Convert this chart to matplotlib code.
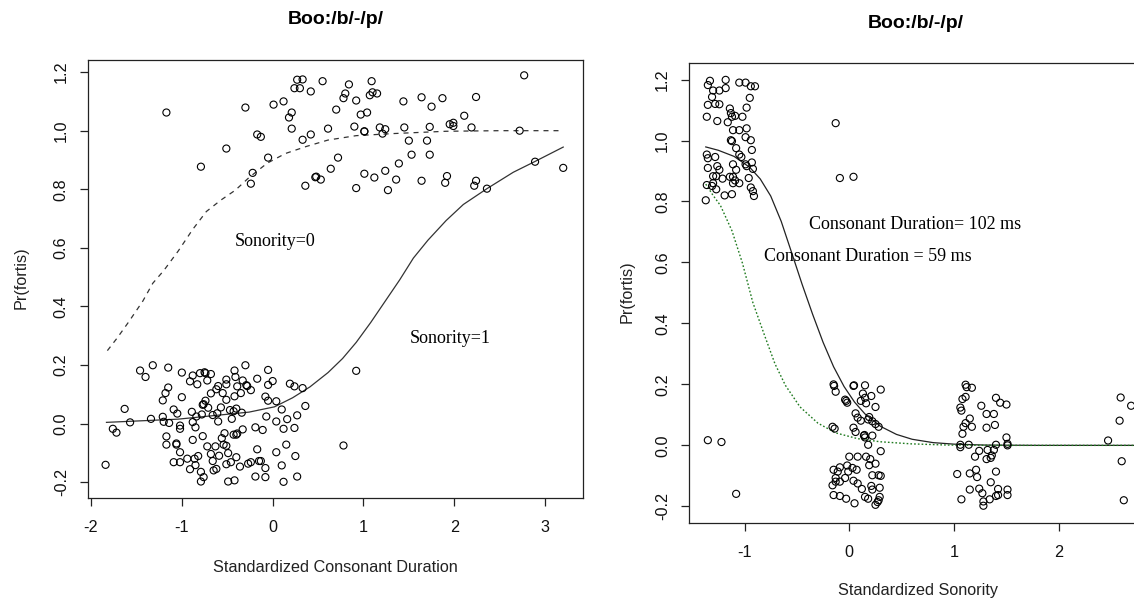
import numpy as np
import matplotlib
matplotlib.use("Agg")
import matplotlib.pyplot as plt

plt.rcParams['font.family'] = ['Liberation Sans', 'DejaVu Sans']

# --- left panel: fortis responses vs standardized consonant duration ---
dur_hi_x = [-1.17, -0.79, -0.51, -0.30, -0.22, -0.24, -0.17, -0.13, -0.05, 0.01,
            0.12, 0.18, 0.21, 0.21, 0.24, 0.27, 0.30, 0.33, 0.33, 0.42,
            0.42, 0.36, 0.47, 0.48, 0.53, 0.55, 0.61, 0.64, 0.70, 0.72,
            0.78, 0.80, 0.84, 0.90, 0.92, 0.92, 0.97, 1.01, 1.01, 1.01,
            1.04, 1.07, 1.09, 1.10, 1.12, 1.15, 1.18, 1.21, 1.24, 1.24,
            1.27, 1.36, 1.39, 1.44, 1.45, 1.50, 1.53, 1.64, 1.64, 1.70,
            1.73, 1.73, 1.75, 1.87, 1.90, 1.92, 1.95, 1.99, 1.99, 2.11,
            2.19, 2.22, 2.24, 2.24, 2.36, 2.72, 2.77, 2.89, 3.20]
dur_hi_y = [1.062, 0.877, 0.939, 1.079, 0.856, 0.819, 0.987, 0.979, 0.908, 1.089,
            1.100, 1.045, 1.062, 1.007, 1.145, 1.174, 1.145, 1.175, 0.969, 1.134,
            0.987, 0.812, 0.841, 0.843, 0.833, 1.169, 1.007, 0.870, 1.072, 0.908,
            1.111, 1.127, 1.158, 1.014, 1.103, 0.804, 1.055, 0.998, 0.997, 0.853,
            1.062, 1.121, 1.169, 1.131, 0.840, 1.127, 1.011, 0.990, 1.005, 0.863,
            0.797, 0.833, 0.888, 1.100, 1.011, 0.966, 0.918, 1.114, 0.829, 0.966,
            1.013, 0.918, 1.082, 1.111, 0.822, 0.845, 1.022, 1.027, 1.016, 1.051,
            1.011, 0.812, 0.829, 1.115, 0.802, 1.000, 1.189, 0.894, 0.873]

dur_lo_x = [-1.84, -1.76, -1.72, -1.63, -1.57, -1.46, -1.40, -1.34, -1.32, -1.21,
            -1.21, -1.20, -1.17, -1.17, -1.15, -1.15, -1.18, -1.14, -1.09, -1.09,
            -1.06, -1.06, -1.05, -1.02, -1.02, -1.02, -1.00, -1.02, -1.00, -0.94,
            -0.91, -0.91, -0.88, -0.89, -0.88, -0.88, -0.86, -0.85, -0.85, -0.84,
            -0.83, -0.82, -0.80, -0.79, -0.79, -0.78, -0.77, -0.77, -0.76, -0.76,
            -0.75, -0.74, -0.74, -0.72, -0.72, -0.71, -0.68, -0.68, -0.68, -0.66,
            -0.66, -0.65, -0.63, -0.62, -0.62, -0.61, -0.60, -0.60, -0.59, -0.57,
            -0.56, -0.55, -0.53, -0.54, -0.51, -0.51, -0.51, -0.51, -0.51, -0.49,
            -0.49, -0.47, -0.46, -0.45, -0.43, -0.43, -0.42, -0.42, -0.42, -0.41,
            -0.40, -0.40, -0.40, -0.39, -0.39, -0.36, -0.35, -0.34, -0.33, -0.33,
            -0.30, -0.29, -0.28, -0.27, -0.24, -0.24, -0.19, -0.19, -0.17, -0.17,
            -0.15, -0.13, -0.11, -0.08, -0.08, -0.08, -0.07, -0.05, -0.05, -0.05,
            0.00, 0.04, 0.04, 0.04, 0.10, 0.10, 0.12, 0.12, 0.15, 0.16,
            0.19, 0.24, 0.25, 0.24, 0.27, 0.27, 0.33, 0.36, 0.92, 0.78]
dur_lo_y = [-0.141, -0.018, -0.031, 0.050, 0.004, 0.181, 0.159, 0.016, 0.199, 0.023,
            0.079, 0.006, -0.044, -0.072, 0.191, 0.123, 0.104, 0.002, 0.048, -0.132,
            -0.068, -0.072, 0.034, -0.007, -0.098, -0.018, 0.090, -0.132, 0.174, -0.120,
            0.144, -0.156, 0.164, 0.040, -0.056, 0.005, -0.120, -0.013, -0.142, 0.024,
            0.134, -0.111, 0.172, -0.198, -0.165, 0.031, 0.064, -0.043, -0.183, 0.066,
            0.175, 0.078, 0.172, 0.147, -0.078, 0.054, 0.169, 0.103, -0.104, -0.128,
            0.029, -0.160, -0.078, -0.155, 0.117, 0.035, 0.007, 0.128, -0.110, 0.055,
            -0.050, 0.104, -0.033, -0.072, -0.076, 0.134, 0.150, 0.081, -0.139, -0.101,
            -0.198, 0.046, -0.132, 0.016, 0.042, -0.038, 0.093, -0.194, 0.181, 0.159,
            -0.038, 0.051, -0.115, 0.127, -0.034, -0.147, 0.104, 0.037, -0.020, 0.147,
            0.199, 0.131, 0.128, -0.137, 0.114, -0.132, -0.013, -0.181, 0.153, -0.088,
            -0.128, -0.128, -0.022, -0.152, -0.183, 0.092, 0.024, 0.183, 0.132, 0.078,
            0.145, 0.076, -0.098, 0.007, 0.048, -0.143, -0.018, -0.199, -0.072, 0.015,
            0.136, 0.127, -0.111, -0.015, -0.181, 0.028, 0.121, 0.060, 0.180, -0.075]

# fitted curves, Sonority=0 (dashed) and Sonority=1 (solid)
son0_x = [-1.82, -1.71, -1.59, -1.43, -1.32, -1.20, -1.04, -0.88, -0.73, -0.57,
          -0.41, -0.26, -0.06, 0.14, 0.37, 0.61, 0.92, 1.32, 1.91, 2.50, 3.20]
son0_y = [0.249, 0.293, 0.345, 0.418, 0.479, 0.522, 0.589, 0.663, 0.724, 0.763,
          0.797, 0.840, 0.889, 0.922, 0.946, 0.968, 0.983, 0.990, 0.998, 1.000, 1.000]
son1_x = [-1.83, -1.04, -0.65, -0.26, 0.02, 0.22, 0.41, 0.61, 0.77, 0.92,
          1.08, 1.24, 1.40, 1.55, 1.71, 1.91, 2.10, 2.36, 2.65, 2.89, 3.20]
son1_y = [0.004, 0.015, 0.027, 0.039, 0.057, 0.088, 0.125, 0.174, 0.222, 0.277,
          0.345, 0.418, 0.491, 0.565, 0.626, 0.693, 0.748, 0.802, 0.858, 0.895, 0.944]

# --- right panel: fortis responses vs standardized sonority ---
son_x = [-1.33, -1.35, -1.35, -1.31, -1.30, -1.24, -1.28, -1.24, -1.18, -1.18,
         -1.05, -0.99, -0.94, -0.90, -0.95, -0.98, -1.36, -1.26, -1.14, -1.13,
         -1.16, -1.12, -1.09, -1.02, -1.11, -1.05, -1.13, -1.12, -0.98, -0.99,
         -0.94, -0.93, -1.08, -1.05, -1.03, -1.36, -1.35, -1.28, -1.11, -0.99,
         -0.93, -0.98, -0.92, -1.35, -1.26, -1.24, -1.27, -1.30, -1.21, -1.14,
         -1.11, -1.08, -0.96, -1.09, -1.05, -1.11, -1.36, -1.31, -1.27, -1.30,
         -0.94, -0.92, -0.91, -1.19, -1.12, -1.37, -1.35, -1.22, -1.08,
         -0.13, -0.09, 0.04,
         -0.15, -0.145, -0.13, -0.04, -0.02, -0.03, 0.04, 0.045, 0.15, 0.30,
         0.13, 0.11, 0.15, 0.21, 0.16, 0.25, 0.06, 0.08, 0.19, 0.18,
         0.22, 0.25, 0.28, 0.11, -0.16, -0.14, 0.04, 0.06, 0.14, 0.145,
         0.15, 0.22, 0.18, 0.30, 0.08, 0.00, 0.16, 0.20, 0.19, -0.02,
         0.03, -0.09, -0.15, -0.11, -0.01, 0.07, 0.25, 0.22, 0.28, 0.30,
         -0.13, -0.04, 0.04, -0.13, -0.09, -0.16, 0.08, 0.12, 0.21, 0.29,
         0.22, -0.15, -0.09, -0.03, 0.05, 0.15, 0.18, 0.29, 0.28, 0.25, 0.27,
         1.11, 1.12, 1.17, 1.08, 1.11, 1.06, 1.07, 1.26, 1.40, 1.44,
         1.50, 1.31, 1.38, 1.15, 1.11, 1.09, 1.17, 1.31, 1.39, 1.08,
         1.06, 1.06, 1.14, 1.40, 1.50, 1.51, 1.51, 1.24, 1.32, 1.38,
         1.20, 1.36, 1.31, 1.35, 1.03, 1.15, 1.21, 1.22, 1.40, 1.35,
         1.15, 1.24, 1.27, 1.42, 1.51, 1.07, 1.28, 1.28, 1.34, 1.40,
         1.42, 1.51,
         2.59, 2.69, 2.58, 2.47, 2.60, 2.62]
son_y = [1.196, 1.182, 1.117, 1.143, 1.164, 1.164, 1.120, 1.119, 1.199, 1.172,
         1.190, 1.190, 1.178, 1.178, 1.140, 1.108, 1.078, 1.064, 1.105, 1.090,
         1.060, 1.078, 1.081, 1.078, 1.034, 1.034, 1.001, 0.998, 1.040, 1.011,
         1.001, 0.969, 0.975, 0.954, 0.946, 0.954, 0.942, 0.946, 0.922, 0.922,
         0.928, 0.916, 0.907, 0.910, 0.916, 0.904, 0.883, 0.883, 0.875, 0.881,
         0.881, 0.904, 0.877, 0.869, 0.860, 0.860, 0.854, 0.851, 0.840, 0.860,
         0.846, 0.834, 0.818, 0.820, 0.824, 0.804, 0.017, 0.011, -0.159,
         1.057, 0.877, 0.881,
         0.200, 0.195, 0.176, 0.150, 0.140, 0.146, 0.195, 0.197, 0.197, 0.183,
         0.170, 0.146, 0.156, 0.162, 0.138, 0.126, 0.105, 0.091, 0.093, 0.085,
         0.079, 0.070, 0.061, 0.081, 0.061, 0.055, 0.058, 0.044, 0.032, 0.034,
         0.026, 0.032, 0.002, -0.019, -0.037, -0.037, -0.037, -0.045, -0.065, -0.066,
         -0.074, -0.072, -0.080, -0.086, -0.086, -0.080, -0.060, -0.098, -0.098, -0.100,
         -0.107, -0.107, -0.116, -0.119, -0.119, -0.131, -0.125, -0.143, -0.133, -0.139,
         -0.145, -0.163, -0.166, -0.175, -0.190, -0.169, -0.175, -0.169, -0.180, -0.195, -0.186,
         0.199, 0.191, 0.189, 0.152, 0.159, 0.124, 0.114, 0.130, 0.156, 0.140,
         0.134, 0.103, 0.103, 0.088, 0.073, 0.061, 0.061, 0.058, 0.067, 0.038,
         0.002, -0.006, 0.002, 0.002, 0.026, 0.005, 0.000, -0.018, -0.015, -0.015,
         -0.037, -0.033, -0.045, -0.041, -0.094, -0.092, -0.080, -0.104, -0.086, -0.121,
         -0.145, -0.142, -0.157, -0.143, -0.145, -0.177, -0.184, -0.198, -0.177, -0.166,
         -0.163, -0.163,
         0.157, 0.130, 0.081, 0.016, -0.052, -0.180]

# fitted curves for 102 ms (solid black) and 59 ms (green dotted)
d102_x = [-1.37, -1.25, -1.10, -0.95, -0.85, -0.75, -0.65, -0.55, -0.45, -0.35,
          -0.25, -0.15, -0.05, 0.05, 0.15, 0.30, 0.45, 0.60, 0.80, 1.00,
          1.30, 1.80, 2.80]
d102_y = [0.979, 0.968, 0.948, 0.912, 0.874, 0.818, 0.735, 0.632, 0.528, 0.430,
          0.338, 0.258, 0.193, 0.142, 0.103, 0.062, 0.036, 0.020, 0.009, 0.004,
          0.001, 0.000, 0.000]
d59_x = [-1.37, -1.30, -1.23, -1.12, -1.02, -0.92, -0.81, -0.71, -0.61, -0.47,
         -0.30, -0.13, 0.08, 0.29, 0.59, 0.94, 1.50, 2.80]
d59_y = [0.857, 0.820, 0.787, 0.704, 0.598, 0.468, 0.362, 0.268, 0.197, 0.126,
         0.073, 0.041, 0.022, 0.012, 0.005, 0.001, 0.000, 0.000]

yticks = [-0.2, 0.0, 0.2, 0.4, 0.6, 0.8, 1.0, 1.2]

W, H = 1134, 599
fig = plt.figure(figsize=(W / 100, H / 100), dpi=100)


def px(x, y):
    return x / W, 1 - y / H


def style_axes(ax, xt):
    for s in ax.spines.values():
        s.set_linewidth(0.9)
        s.set_color('#222222')
    ax.set_xticks(xt)
    ax.set_xticklabels([str(t) for t in xt])
    ax.set_yticks(yticks)
    ax.set_yticklabels(['%.1f' % t for t in yticks], rotation=90, va='center')
    ax.tick_params(axis='both', direction='out', length=5.5, width=0.9,
                   color='#222222', labelsize=11.7, labelcolor='#111111')
    ax.tick_params(axis='x', pad=10)
    ax.tick_params(axis='y', pad=8)


pt_kw = dict(s=26, facecolors='none', edgecolors='black', linewidths=0.8, zorder=3)
serif = ['Liberation Serif', 'DejaVu Serif']

# left axes
ax1 = fig.add_axes([0.0772, 0.1686, 0.4366, 0.7319])
ax1.scatter(dur_hi_x, dur_hi_y, **pt_kw)
ax1.scatter(dur_lo_x, dur_lo_y, **pt_kw)
ax1.plot(son0_x, son0_y, color='#333333', lw=0.9, ls=(0, (4, 4)))
ax1.plot(son1_x, son1_y, color='#333333', lw=0.9)
ax1.text(0.026, 0.623, 'Sonority=0', family=serif, fontsize=13, ha='center', va='center')
ax1.text(1.96, 0.289, 'Sonority=1', family=serif, fontsize=13, ha='center', va='center')
ax1.set_xlim(-2.0385, 3.414)
ax1.set_ylim(-0.2543, 1.2427)
style_axes(ax1, [-2, -1, 0, 1, 2, 3])

# right axes (runs past the right edge of the figure)
ax2 = fig.add_axes([0.6073, 0.1269, 0.4068, 0.7673])
ax2.scatter(son_x, son_y, **pt_kw)
ax2.plot(d102_x, d102_y, color='#222222', lw=0.9)
ax2.plot(d59_x, d59_y, color='#1f7a1f', lw=1.0, ls=(0, (1.2, 1.5)))
ax2.text(0.626, 0.723, 'Consonant Duration= 102 ms', family=serif, fontsize=13,
         ha='center', va='center')
ax2.text(0.18, 0.621, 'Consonant Duration = 59 ms', family=serif, fontsize=13,
         ha='center', va='center')
ax2.set_xlim(-1.533, 2.87)
ax2.set_ylim(-0.2546, 1.2531)
style_axes(ax2, [-1, 0, 1, 2])

# titles and axis labels
fig.text(*px(336, 19), 'Boo:/b/-/p/', fontsize=14, fontweight='bold', ha='center', va='center')
fig.text(*px(916, 23), 'Boo:/b/-/p/', fontsize=14, fontweight='bold', ha='center', va='center')
fig.text(*px(335, 567), 'Standardized Consonant Duration', fontsize=11.7, color='#222222',
         ha='center', va='center')
fig.text(*px(918, 591), 'Standardized Sonority', fontsize=11.7, color='#222222',
         ha='center', va='center')
fig.text(*px(21.5, 277.5), 'Pr(fortis)', fontsize=11.7, color='#222222', rotation=90,
         ha='center', va='center')
fig.text(*px(627.5, 292), 'Pr(fortis)', fontsize=11.7, color='#222222', rotation=90,
         ha='center', va='center')

fig.savefig('out.png', dpi=100)
